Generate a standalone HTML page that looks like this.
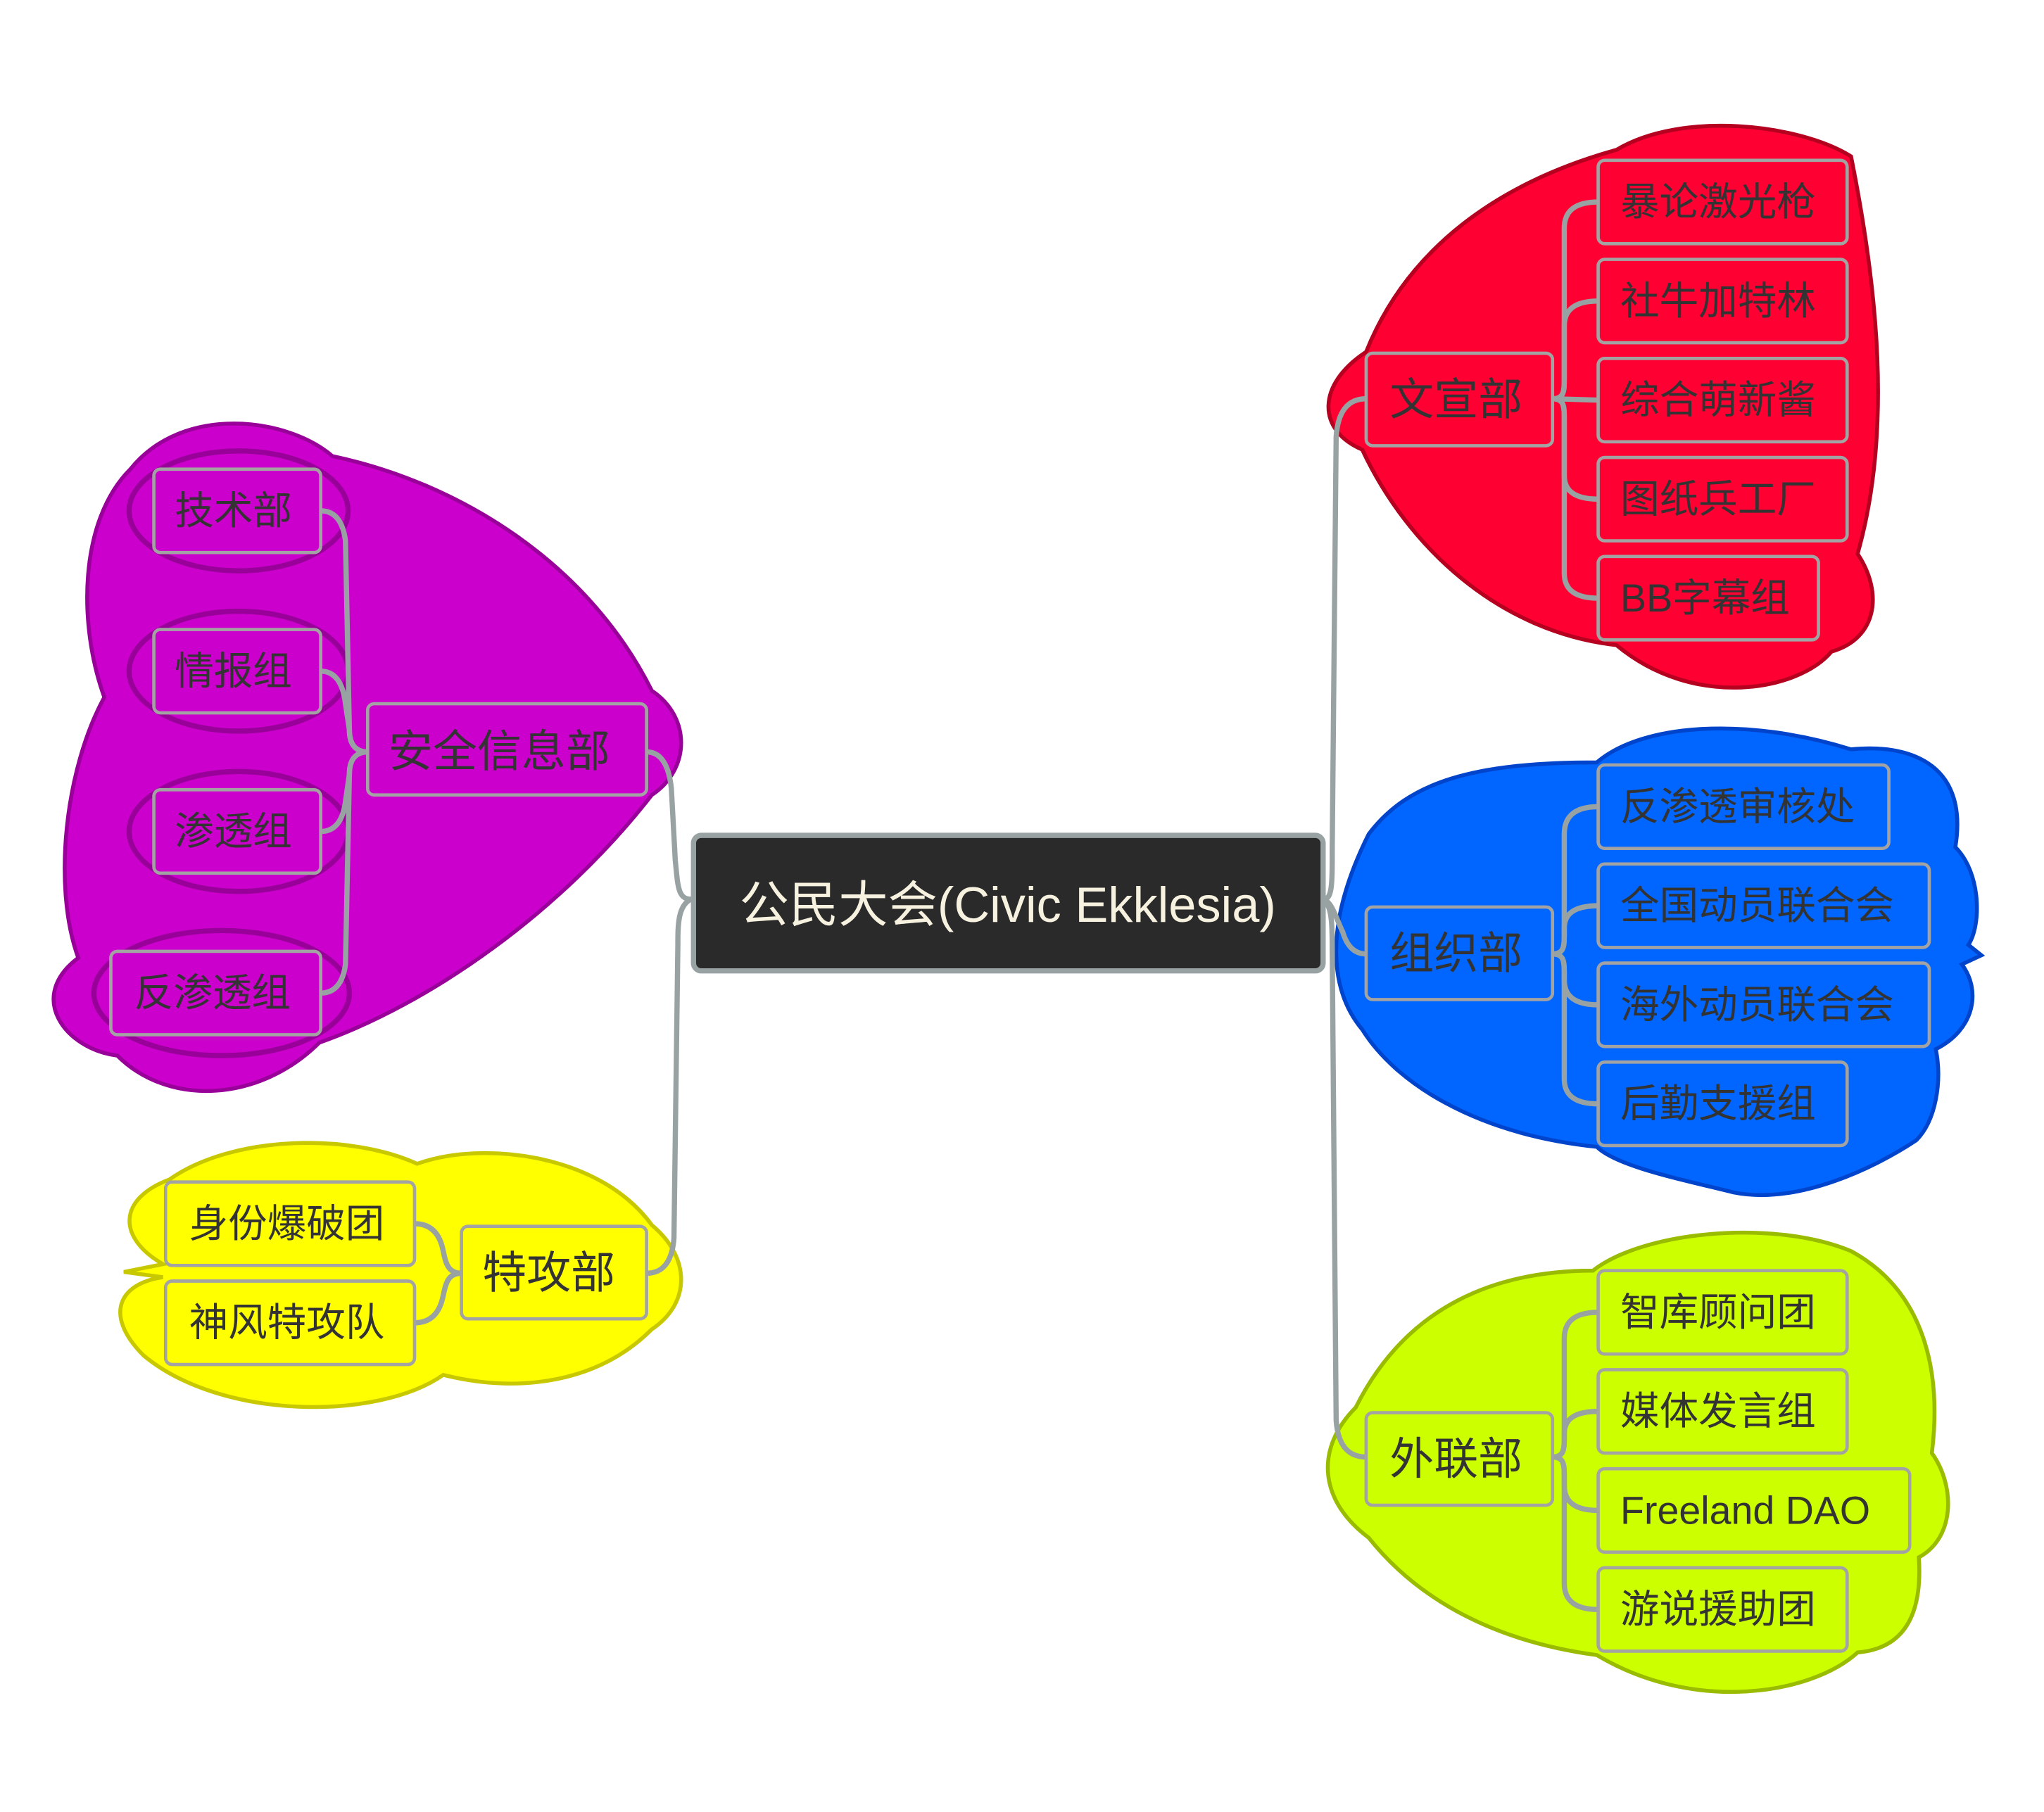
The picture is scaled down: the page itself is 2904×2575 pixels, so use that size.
<!DOCTYPE html>
<html><head><meta charset="utf-8"><style>
html,body{margin:0;padding:0;background:#fff;}
svg{display:block;}
text{font-family:"Liberation Sans","Noto Sans CJK SC",sans-serif;fill:#333;dominant-baseline:central;}
.c{fill:none;stroke:#98a2a2;stroke-width:4;stroke-linecap:round;}
.b{stroke:#a3a3a3;stroke-width:2.5;}
.s{font-size:30px;}
.m{font-size:34px;}
</style></head><body>
<svg width="2904" height="2575" viewBox="0 0 1568 1390.4" xmlns="http://www.w3.org/2000/svg">
<!-- blobs -->
<path d="M1048,270 C1080,190 1150,140 1240,115 C1290,85 1380,95 1420,120 C1440,220 1452,330 1425,425 C1445,455 1440,490 1405,500 C1380,530 1300,545 1240,495 C1150,485 1080,420 1045,345 C1010,330 1010,295 1048,270 Z" fill="#ff0033" stroke="#b5001f" stroke-width="3"/>
<path d="M1050,640 C1080,600 1130,585 1225,585 C1260,555 1340,550 1420,575 C1470,570 1510,590 1500,650 C1520,670 1520,710 1510,725 L1520,733 L1505,740 C1520,760 1515,790 1485,805 C1490,830 1485,860 1470,875 C1440,895 1380,925 1330,915 C1290,905 1240,895 1225,880 C1130,870 1070,830 1045,790 C1020,760 1015,710 1050,640 Z" fill="#0066ff" stroke="#0044cc" stroke-width="3"/>
<path d="M1040,1080 C1080,1000 1150,975 1222,975 C1260,945 1360,935 1420,960 C1475,990 1490,1050 1482,1115 C1500,1140 1500,1180 1472,1195 C1475,1240 1460,1265 1425,1268 C1390,1300 1300,1315 1225,1270 C1150,1260 1090,1230 1050,1180 C1010,1150 1010,1110 1040,1080 Z" fill="#ccff00" stroke="#99bb00" stroke-width="3"/>
<path d="M100,360 C140,310 220,320 255,350 C350,370 450,430 500,530 C530,550 530,590 500,610 C430,700 330,770 245,800 C200,845 130,850 90,810 C50,805 20,765 60,735 C40,680 50,590 80,535 C60,480 60,400 100,360 Z" fill="#cc00cc" stroke="#990099" stroke-width="3"/>
<g fill="none" stroke="#990099" stroke-width="4">
<ellipse cx="183" cy="392" rx="84" ry="46"/>
<ellipse cx="183" cy="515" rx="84" ry="46"/>
<ellipse cx="183" cy="638" rx="84" ry="46"/>
<ellipse cx="170" cy="762" rx="98" ry="48"/>
</g>
<path d="M130,905 C180,870 270,870 320,893 C370,875 460,885 500,940 C530,965 530,1000 500,1020 C460,1060 400,1070 340,1055 C290,1090 170,1090 110,1040 C80,1010 90,985 125,980 L95,976 L125,970 C90,950 90,920 130,905 Z" fill="#ffff00" stroke="#c8c800" stroke-width="3"/>

<!-- center connectors -->
<path class="c" d="M1015,690 C1022,690 1022,680 1022,650 L1025,335 Q1027,306 1048,306"/>
<path class="c" d="M1015,690 C1022,692 1025,705 1030,715 Q1035,732 1048,732"/>
<path class="c" d="M1015,690 C1022,695 1022,710 1022,730 L1025,1090 Q1027,1118 1048,1118"/>
<path class="c" d="M530,690 C520,690 520,680 518,660 L515,605 Q512,577 496,577"/>
<path class="c" d="M530,690 C520,695 520,710 520,725 L517,950 Q515,977 496,977"/>

<!-- branch connectors -->
<g class="c">
<path d="M1191,306 C1200,306 1200,300 1200,290 L1200,175 Q1200,155 1226,155"/>
<path d="M1191,306 C1200,306 1200,300 1200,290 L1200,250 Q1200,231 1226,231"/>
<path d="M1191,306 L1226,307"/>
<path d="M1191,306 C1200,306 1200,312 1200,322 L1200,365 Q1200,383 1226,383"/>
<path d="M1191,306 C1200,306 1200,312 1200,322 L1200,440 Q1200,459 1226,459"/>
<path d="M1191,732 C1200,732 1200,726 1200,716 L1200,640 Q1200,619 1226,619"/>
<path d="M1191,732 C1200,732 1200,726 1200,716 L1200,712 Q1200,695 1226,695"/>
<path d="M1191,732 C1200,732 1200,738 1200,748 L1200,752 Q1200,771 1226,771"/>
<path d="M1191,732 C1200,732 1200,738 1200,748 L1200,828 Q1200,847 1226,847"/>
<path d="M1191,1118 C1200,1118 1200,1112 1200,1102 L1200,1027 Q1200,1007 1226,1007"/>
<path d="M1191,1118 C1200,1118 1200,1112 1200,1102 L1200,1100 Q1200,1083 1226,1083"/>
<path d="M1191,1118 C1200,1118 1200,1124 1200,1134 L1200,1140 Q1200,1159 1226,1159"/>
<path d="M1191,1118 C1200,1118 1200,1124 1200,1134 L1200,1215 Q1200,1235 1226,1235"/>
<path d="M282,577 C272,577 268,570 268,560 L265,415 Q262,392 246,392"/>
<path d="M282,577 C272,577 268,570 268,560 L265,540 Q262,515 246,515"/>
<path d="M282,577 C272,577 268,584 268,594 L265,615 Q262,638 246,638"/>
<path d="M282,577 C272,577 268,584 268,594 L265,740 Q262,762 246,762"/>
<path d="M354,977 C344,977 342,970 340,960 Q336,939 318,939"/>
<path d="M354,977 C344,977 342,984 340,994 Q336,1015 318,1015"/>
</g>

<!-- central -->
<rect x="532" y="641" width="483" height="104" rx="6" fill="#2a2a2a" stroke="#98a2a2" stroke-width="4"/>
<text x="773" y="694" text-anchor="middle" style="font-size:38px;fill:#f7f2e0">公民大会(Civic Ekklesia)</text>

<!-- red -->
<g fill="#ff0033" class="b">
<rect x="1048" y="271" width="143" height="71" rx="5"/>
<rect x="1226" y="123" width="191" height="64" rx="5"/>
<rect x="1226" y="199" width="191" height="64" rx="5"/>
<rect x="1226" y="275" width="191" height="64" rx="5"/>
<rect x="1226" y="351" width="191" height="64" rx="5"/>
<rect x="1226" y="427" width="169" height="64" rx="5"/>
</g>
<text class="m" x="1066" y="307">文宣部</text>
<text class="s" x="1243" y="155">暴论激光枪</text>
<text class="s" x="1243" y="231">社牛加特林</text>
<text class="s" x="1243" y="307">综合萌新酱</text>
<text class="s" x="1243" y="383">图纸兵工厂</text>
<text class="s" x="1243" y="459">BB字幕组</text>

<!-- blue -->
<g fill="#0066ff" class="b">
<rect x="1048" y="696" width="143" height="71" rx="5"/>
<rect x="1226" y="587" width="223" height="64" rx="5"/>
<rect x="1226" y="663" width="254" height="64" rx="5"/>
<rect x="1226" y="739" width="254" height="64" rx="5"/>
<rect x="1226" y="815" width="191" height="64" rx="5"/>
</g>
<text class="m" x="1066" y="732">组织部</text>
<text class="s" x="1243" y="619">反渗透审核处</text>
<text class="s" x="1243" y="695">全国动员联合会</text>
<text class="s" x="1243" y="771">海外动员联合会</text>
<text class="s" x="1243" y="847">后勤支援组</text>

<!-- green -->
<g fill="#ccff00" class="b">
<rect x="1048" y="1084" width="143" height="71" rx="5"/>
<rect x="1226" y="975" width="191" height="64" rx="5"/>
<rect x="1226" y="1051" width="191" height="64" rx="5"/>
<rect x="1226" y="1127" width="239" height="64" rx="5"/>
<rect x="1226" y="1203" width="191" height="64" rx="5"/>
</g>
<text class="m" x="1066" y="1120">外联部</text>
<text class="s" x="1243" y="1007">智库顾问团</text>
<text class="s" x="1243" y="1083">媒体发言组</text>
<text class="s" x="1243" y="1159">Freeland DAO</text>
<text class="s" x="1243" y="1235">游说援助团</text>

<!-- magenta -->
<g fill="#cc00cc" class="b">
<rect x="282" y="540" width="214" height="70" rx="5"/>
<rect x="118" y="360" width="128" height="64" rx="5"/>
<rect x="118" y="483" width="128" height="64" rx="5"/>
<rect x="118" y="606" width="128" height="64" rx="5"/>
<rect x="85" y="730" width="161" height="64" rx="5"/>
</g>
<text class="m" x="298" y="577">安全信息部</text>
<text class="s" x="134" y="392">技术部</text>
<text class="s" x="134" y="515">情报组</text>
<text class="s" x="134" y="638">渗透组</text>
<text class="s" x="103" y="762">反渗透组</text>

<!-- yellow -->
<g fill="#ffff00" class="b">
<rect x="354" y="941" width="142" height="71" rx="5"/>
<rect x="127" y="907" width="191" height="64" rx="5"/>
<rect x="127" y="983" width="191" height="64" rx="5"/>
</g>
<text class="m" x="370" y="977">特攻部</text>
<text class="s" x="145" y="939">身份爆破团</text>
<text class="s" x="145" y="1015">神风特攻队</text>
</svg>
</body></html>
